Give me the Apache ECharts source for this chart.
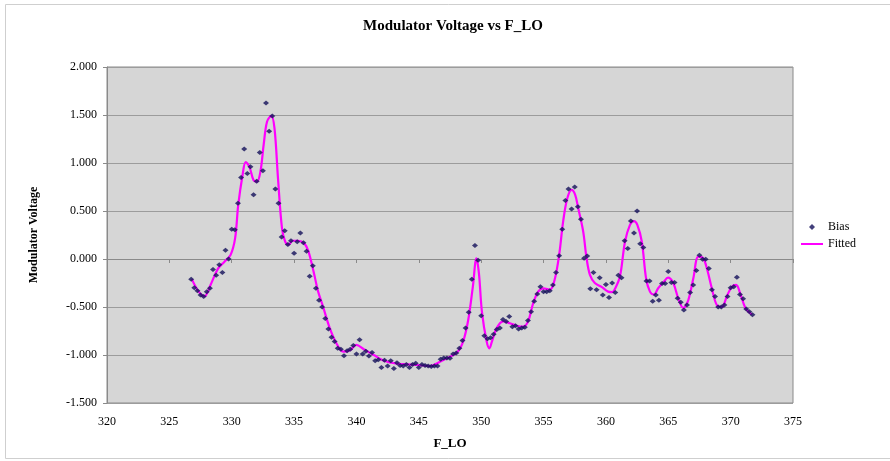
<!DOCTYPE html>
<html>
<head>
<meta charset="utf-8">
<script src="https://cdn.jsdelivr.net/npm/echarts@6/dist/echarts.min.js"></script>
<style>
  html, body { margin: 0; padding: 0; background: #ffffff; }
  #chart { width: 890px; height: 461px; }
</style>
</head>
<body>
<div id="chart"></div>
<script>
// Measured frequencies (F_LO), one sample every 0.25
const biasX = [
  326.75, 327.00, 327.25, 327.50, 327.75, 328.00, 328.25, 328.50, 328.75, 329.00,
  329.25, 329.50, 329.75, 330.00, 330.25, 330.50, 330.75, 331.00, 331.25, 331.50,
  331.75, 332.00, 332.25, 332.50, 332.75, 333.00, 333.25, 333.50, 333.75, 334.00,
  334.25, 334.50, 334.75, 335.00, 335.25, 335.50, 335.75, 336.00, 336.25, 336.50,
  336.75, 337.00, 337.25, 337.50, 337.75, 338.00, 338.25, 338.50, 338.75, 339.00,
  339.25, 339.50, 339.75, 340.00, 340.25, 340.50, 340.75, 341.00, 341.25, 341.50,
  341.75, 342.00, 342.25, 342.50, 342.75, 343.00, 343.25, 343.50, 343.75, 344.00,
  344.25, 344.50, 344.75, 345.00, 345.25, 345.50, 345.75, 346.00, 346.25, 346.50,
  346.75, 347.00, 347.25, 347.50, 347.75, 348.00, 348.25, 348.50, 348.75, 349.00,
  349.25, 349.50, 349.75, 350.00, 350.25, 350.50, 350.75, 351.00, 351.25, 351.50,
  351.75, 352.00, 352.25, 352.50, 352.75, 353.00, 353.25, 353.50, 353.75, 354.00,
  354.25, 354.50, 354.75, 355.00, 355.25, 355.50, 355.75, 356.00, 356.25, 356.50,
  356.75, 357.00, 357.25, 357.50, 357.75, 358.00, 358.25, 358.50, 358.75, 359.00,
  359.25, 359.50, 359.75, 360.00, 360.25, 360.50, 360.75, 361.00, 361.25, 361.50,
  361.75, 362.00, 362.25, 362.50, 362.75, 363.00, 363.25, 363.50, 363.75, 364.00,
  364.25, 364.50, 364.75, 365.00, 365.25, 365.50, 365.75, 366.00, 366.25, 366.50,
  366.75, 367.00, 367.25, 367.50, 367.75, 368.00, 368.25, 368.50, 368.75, 369.00,
  369.25, 369.50, 369.75, 370.00, 370.25, 370.50, 370.75, 371.00, 371.25, 371.50,
  371.75
];

// Measured modulator bias voltage
const biasY = [
  -0.21, -0.30, -0.33, -0.375, -0.39, -0.34, -0.305, -0.11, -0.17, -0.06,
  -0.14, 0.09, 0.00, 0.31, 0.305, 0.58, 0.85, 1.146, 0.89, 0.96,
  0.67, 0.81, 1.11, 0.92, 1.625, 1.33, 1.49, 0.73, 0.58, 0.23,
  0.295, 0.15, 0.19, 0.06, 0.18, 0.27, 0.17, 0.08, -0.18, -0.07,
  -0.305, -0.43, -0.50, -0.62,
  -0.73, -0.815, -0.86, -0.93, -0.94, -1.007, -0.955, -0.94, -0.90, -0.99,
  -0.84, -0.99, -0.96, -1.01, -0.975, -1.06, -1.05, -1.13, -1.055, -1.115,
  -1.06, -1.14, -1.08, -1.11, -1.115, -1.10, -1.13, -1.10, -1.085, -1.13,
  -1.10, -1.11, -1.115, -1.12, -1.115, -1.115, -1.045, -1.03, -1.03, -1.035,
  -0.99, -0.98, -0.93, -0.85, -0.72, -0.555, -0.21, 0.14, -0.014,
  -0.59, -0.80, -0.83, -0.82, -0.785, -0.735, -0.72, -0.63, -0.65, -0.60,
  -0.705, -0.695, -0.73, -0.72, -0.71, -0.64, -0.55, -0.44, -0.365, -0.29,
  -0.34, -0.34, -0.33, -0.27, -0.14, 0.035, 0.31, 0.61, 0.73, 0.52,
  0.75, 0.545, 0.415, 0.007, 0.03, -0.31, -0.14, -0.32, -0.195, -0.375,
  -0.265, -0.40, -0.25,
  -0.35, -0.17, -0.195, 0.19, 0.11, 0.395, 0.27, 0.50, 0.16, 0.12,
  -0.23, -0.23, -0.44, -0.375, -0.43, -0.255, -0.255, -0.13, -0.245, -0.245,
  -0.41, -0.45, -0.53, -0.48, -0.35, -0.27, -0.12, 0.04, -0.003, -0.003,
  -0.10, -0.32, -0.39, -0.50, -0.50, -0.48, -0.39, -0.30, -0.29, -0.19,
  -0.37, -0.415, -0.52, -0.55, -0.58
];

// Fitted curve, sampled at the knots below
const fitX = [
  326.8, 327.3, 327.8, 328.3, 328.9, 329.4, 329.9, 330.27, 330.52, 330.87,
  331.12, 331.42, 331.75, 332.02, 332.3, 332.56, 332.83, 333.17, 333.43, 333.71,
  334.03, 334.29, 334.56, 334.88, 335.33, 335.83, 336.15, 336.56, 336.93, 337.33,
  337.86, 338.4, 338.93, 339.48, 339.99, 340.59, 341.39, 342.2, 343.25, 344.55,
  345.9, 346.7, 347.25, 348.05, 348.55, 348.96, 349.33, 349.62, 349.82, 350.06,
  350.44, 350.66, 350.86, 351.24, 351.76, 352.31, 352.84, 353.36, 353.76, 354.17,
  354.57, 354.97, 355.52, 355.92, 356.27, 356.57, 356.9, 357.25, 357.53, 357.78,
  358.18, 358.45, 358.72, 359.11, 359.65, 360.18, 360.5, 360.73, 361.13, 361.53,
  361.93, 362.25, 362.52, 362.88, 363.22, 363.53, 363.85, 364.19, 364.6, 364.98,
  365.4, 365.8, 366.2, 366.6, 367.01, 367.41, 367.81, 368.13, 368.49, 368.89,
  369.29, 369.69, 370.09, 370.44, 370.77, 371.19, 371.71
];
const fitY = [
  -0.21, -0.33, -0.39, -0.27, -0.10, -0.03, 0.04, 0.215, 0.56, 0.875,
  1.01, 0.96, 0.82, 0.805, 0.91, 1.19, 1.43, 1.49, 1.36, 0.84,
  0.32, 0.18, 0.15, 0.19, 0.19, 0.16, 0.08, -0.13, -0.34, -0.50,
  -0.72, -0.88, -0.965, -0.95, -0.895, -0.94, -1.00, -1.06, -1.09, -1.10,
  -1.115, -1.07, -1.035, -0.975, -0.86, -0.635, -0.29, 0.007, -0.15, -0.55,
  -0.86, -0.93, -0.86, -0.72, -0.65, -0.67, -0.695, -0.705, -0.65, -0.46,
  -0.34, -0.305, -0.32, -0.20, 0.06, 0.39, 0.63, 0.72, 0.67, 0.53,
  0.285, 0.007, -0.165, -0.25, -0.29, -0.34, -0.345, -0.31, -0.18, 0.18,
  0.355, 0.395, 0.355, 0.18, -0.20, -0.34, -0.37, -0.305, -0.245, -0.195,
  -0.25, -0.41, -0.51, -0.43, -0.20, 0.025, 0.007, -0.115, -0.305, -0.48,
  -0.50, -0.39, -0.29, -0.27, -0.36, -0.51, -0.58
];

const xMin = 320, xMax = 375, xStep = 5;
const yMin = -1.5, yMax = 2.0, yStep = 0.5;

const serif = '"Liberation Serif", "Times New Roman", serif';

const chart = echarts.init(document.getElementById('chart'), null, { renderer: 'canvas' });

chart.setOption({
  backgroundColor: '#ffffff',
  animation: false,
  title: {
    text: 'Modulator Voltage vs F_LO',
    left: 448,
    top: 14,
    textAlign: 'center',
    textStyle: { fontFamily: serif, fontWeight: 'bold', fontSize: 15, color: '#000000' }
  },
  legend: {
    orient: 'vertical',
    left: 801,
    top: 221,
    padding: 0,
    itemWidth: 22,
    itemHeight: 6,
    itemGap: 5,
    symbolKeepAspect: true,
    textStyle: { fontFamily: serif, fontSize: 12, color: '#000000' },
    data: [
      { name: 'Bias', icon: 'path://M3,0 L6,3 L3,6 L0,3 Z' },
      { name: 'Fitted', icon: 'path://M0,0 L22,0 L22,2 L0,2 Z' }
    ]
  },
  grid: {
    left: 107,
    right: 97,
    top: 67,
    bottom: 58,
    show: true,
    backgroundColor: '#d6d6d6',
    borderColor: '#8a8a8a',
    borderWidth: 1
  },
  xAxis: {
    type: 'value',
    min: xMin,
    max: xMax,
    interval: xStep,
    name: 'F_LO',
    nameLocation: 'middle',
    nameGap: 34,
    nameTextStyle: { fontFamily: serif, fontWeight: 'bold', fontSize: 13, color: '#000000' },
    axisLine: { show: true, lineStyle: { color: '#8a8a8a' } },
    axisTick: { show: true, length: 4, lineStyle: { color: '#8a8a8a' } },
    axisLabel: { fontFamily: serif, fontSize: 12, color: '#000000', margin: 13 },
    splitLine: { show: false }
  },
  yAxis: {
    type: 'value',
    min: yMin,
    max: yMax,
    interval: yStep,
    name: 'Modulator Voltage',
    nameLocation: 'middle',
    nameGap: 67,
    nameTextStyle: { fontFamily: serif, fontWeight: 'bold', fontSize: 12, color: '#000000' },
    axisLine: { show: true, lineStyle: { color: '#8a8a8a' } },
    axisTick: { show: true, length: 4, lineStyle: { color: '#8a8a8a' } },
    axisLabel: {
      fontFamily: serif, fontSize: 12, color: '#000000', margin: 10,
      formatter: v => v.toFixed(3)
    },
    splitLine: { show: true, lineStyle: { color: '#9c9c9c', width: 1 } }
  },
  series: [
    {
      name: 'Bias',
      type: 'scatter',
      symbol: 'diamond',
      symbolSize: [6, 5],
      itemStyle: { color: '#14105a' },
      data: biasX.map((x, i) => [x, biasY[i]]),
      z: 3
    },
    {
      name: 'Fitted',
      type: 'line',
      symbol: 'none',
      smooth: 0.35,
      lineStyle: { color: '#ff00ff', width: 2.2 },
      itemStyle: { color: '#ff00ff' },
      data: fitX.map((x, i) => [x, fitY[i]]),
      z: 2
    }
  ],
  graphic: [
    {
      type: 'rect',
      silent: true,
      shape: { x: 5.5, y: 4.5, width: 900, height: 454 },
      style: { fill: 'none', stroke: '#cfcfcf', lineWidth: 1 }
    }
  ]
});
</script>
</body>
</html>
